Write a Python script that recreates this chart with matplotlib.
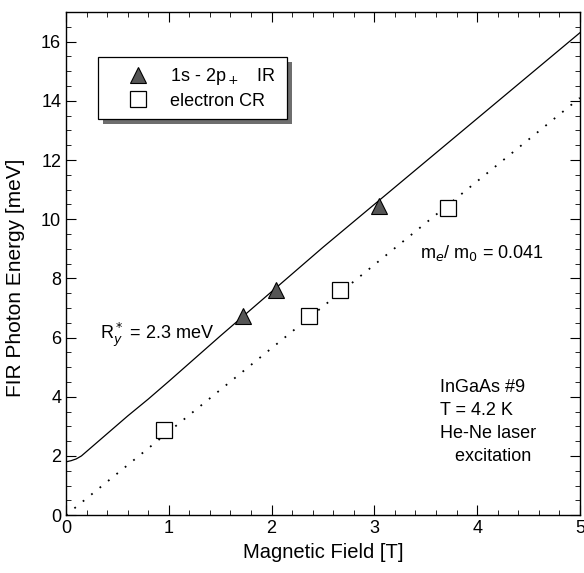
import matplotlib
matplotlib.use("Agg")
import matplotlib.pyplot as plt
from matplotlib.ticker import MultipleLocator
from matplotlib.patches import Rectangle

plt.rcParams['font.family'] = ['Liberation Sans', 'DejaVu Sans']

# measured points
ir_B = [1.72, 2.04, 3.05]
ir_E = [6.73, 7.60, 10.44]
cr_B = [0.95, 2.36, 2.67, 3.72]
cr_E = [2.86, 6.73, 7.60, 10.37]

# 1s-2p+ calculation (Ry* = 2.3 meV)
fit_B = [0, 0.05, 0.1, 0.15, 0.25, 0.4, 0.6, 0.8, 1.0, 1.5, 2.0,
         2.5, 3.0, 3.5, 4.0, 4.5, 5.0]
fit_E = [1.8, 1.84, 1.9, 2.0, 2.3, 2.75, 3.35, 3.92, 4.52, 6.05, 7.55,
         9.05, 10.5, 11.95, 13.4, 14.85, 16.3]

# cyclotron line me/m0 = 0.041
cr_line_B = [0, 5]
cr_line_E = [0, 14.1]

fig = plt.figure(figsize=(5.84, 5.73), dpi=100)
ax = fig.add_axes([0.113, 0.101, 0.880, 0.878])

ax.plot(fit_B, fit_E, color='black', lw=0.9)
ax.plot(cr_line_B, cr_line_E, color='black', lw=1.3, linestyle=(0, (1, 5)))
ax.plot(ir_B, ir_E, '^', ms=12, mfc='#555555', mec='black', mew=0.8,
        label=r'1s - 2p$_+$   IR', zorder=5)
ax.plot(cr_B, cr_E, 's', ms=11.5, mfc='white', mec='black', mew=0.9,
        label='electron CR', zorder=5)

ax.set_xlim(0, 5)
ax.set_ylim(0, 17)
ax.xaxis.set_major_locator(MultipleLocator(1))
ax.xaxis.set_minor_locator(MultipleLocator(0.2))
ax.yaxis.set_major_locator(MultipleLocator(2))
ax.yaxis.set_minor_locator(MultipleLocator(0.5))
ax.tick_params(which='both', direction='in', top=True, right=True, labelsize=13)
ax.tick_params(which='major', length=7)
ax.tick_params(which='minor', length=3.5)
for s in ax.spines.values():
    s.set_linewidth(1.0)

ax.set_xlabel('Magnetic Field [T]', fontsize=14.5, labelpad=4)
ax.set_ylabel('FIR Photon Energy [meV]', fontsize=15)
ax.yaxis.set_label_coords(-0.08, 0.471)

leg = ax.legend(loc='upper left', bbox_to_anchor=(0.062, 0.91, 0.368, 0.0),
                mode='expand', fontsize=13, frameon=True, fancybox=False,
                shadow=False, borderpad=0.5, handletextpad=0.1,
                labelspacing=0.3, handlelength=3.4, borderaxespad=0)
leg.get_frame().set_edgecolor('black')
leg.get_frame().set_linewidth(0.9)
leg.get_frame().set_alpha(1)
leg.set_zorder(10)

# offset shadow behind the legend box
fig.canvas.draw()
bb = leg.get_window_extent()
shadow = Rectangle((bb.x0 + 5, bb.y0 - 5), bb.width, bb.height,
                   transform=None, facecolor='#6e6e6e', edgecolor='none',
                   zorder=9)
ax.add_artist(shadow)

ax.text(0.33, 6.1, r'R$_y^*$ = 2.3 meV', fontsize=13, va='center')
ax.text(3.44, 8.85, r'm$_e$/ m$_0$ = 0.041', fontsize=13, va='center')
ax.text(3.64, 4.6, 'InGaAs #9\nT = 4.2 K\nHe-Ne laser\n   excitation',
        fontsize=13, linespacing=1.45, va='top')

fig.savefig('out.png', dpi=100)
